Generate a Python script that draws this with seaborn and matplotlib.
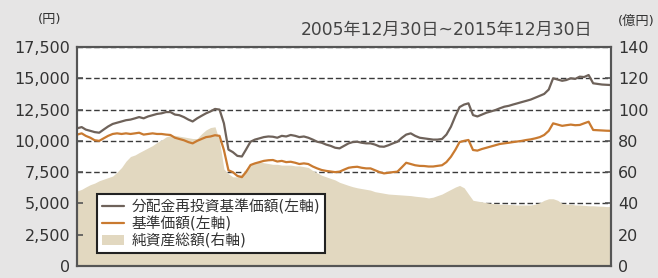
import numpy as np
import pandas as pd
import seaborn as sns
import matplotlib.pyplot as plt
from matplotlib.patches import Patch

# monthly readings, 2005-12 .. 2015-12
dates = pd.date_range('2005-12-01', '2015-12-01', freq='MS') + pd.offsets.MonthEnd(0)

# 分配金再投資基準価額 (円)
nav_reinv = [11000, 11100, 10900, 10800, 10700, 10650, 10900, 11150, 11350, 11450,
             11550, 11650, 11700, 11800, 11900, 11800, 11950, 12050, 12150, 12200,
             12300, 12300, 12100, 12050, 11900, 11700, 11550, 11800, 12000, 12200,
             12350, 12550, 12500, 11400, 9300, 9100, 8800, 8750, 9300, 9930,
             10100, 10200, 10300, 10350, 10330, 10250, 10400, 10350, 10470, 10400,
             10300, 10350, 10250, 10100, 9930, 9850, 9700, 9600, 9450, 9400,
             9600, 9800, 9900, 9930, 9850, 9800, 9800, 9700, 9550, 9530,
             9650, 9800, 9930, 10250, 10500, 10600, 10400, 10250, 10200, 10150,
             10100, 10100, 10150, 10500, 11130, 12000, 12700, 12900, 13000, 12060,
             11950, 12100, 12250, 12350, 12460, 12600, 12730, 12800, 12900, 13000,
             13100, 13200, 13300, 13450, 13600, 13750, 14100, 15000, 14900, 14800,
             14860, 15000, 14950, 15130, 15100, 15260, 14600, 14550, 14500, 14480,
             14460]

# 基準価額 (円)
nav = [10500, 10600, 10400, 10250, 10050, 10000, 10200, 10400, 10550, 10600,
       10550, 10600, 10550, 10600, 10650, 10500, 10550, 10600, 10550, 10550,
       10500, 10470, 10250, 10150, 10050, 9900, 9800, 10000, 10150, 10300,
       10350, 10450, 10400, 9270, 7650, 7500, 7200, 7100, 7500, 8070,
       8200, 8300, 8400, 8450, 8470, 8350, 8400, 8300, 8330, 8250,
       8150, 8200, 8150, 7950, 7800, 7670, 7600, 7550, 7500, 7540,
       7700, 7850, 7900, 7930, 7850, 7800, 7800, 7650, 7500, 7400,
       7450, 7500, 7540, 7900, 8250, 8150, 8050, 8000, 7990, 7950,
       7950, 8000, 8050, 8300, 8730, 9300, 9900, 10000, 10070, 9270,
       9220, 9350, 9450, 9550, 9650, 9750, 9800, 9850, 9900, 9950,
       10000, 10070, 10120, 10200, 10300, 10470, 10800, 11400, 11300, 11200,
       11250, 11300, 11250, 11270, 11400, 11530, 10870, 10850, 10830, 10810,
       10800]

# 純資産総額 (億円)
net_assets = [48, 49, 50.5, 52, 53, 54.5, 55.5, 56.5, 57.5, 60,
              63, 67, 70, 71, 72.5, 74, 75.5, 77, 79, 80.5,
              82.5, 83.5, 83.5, 83, 82.5, 82, 81.5, 81.5, 84.5, 87,
              88.5, 89, 80, 62, 59, 57, 57, 59, 62, 65,
              66, 66.5, 66, 65.5, 65, 65, 64.5, 64.5, 64.5, 64,
              64, 63.5, 63, 61, 59.5, 58, 57, 56, 55, 53.5,
              52.5, 51.5, 50.7, 50, 49.5, 49, 48.5, 47.5, 47, 46.5,
              46, 45.8, 45.6, 45.4, 45.2, 45, 44.6, 44.3, 44, 43.5,
              44, 45, 46, 47.5, 49, 50.5, 51.5, 50, 46, 42,
              41.5, 41, 40.5, 40, 39.8, 39.5, 39.5, 39.3, 39.2, 39,
              39, 39, 39, 39.5, 40.5, 42, 43, 43, 42, 40,
              39.5, 39.5, 39, 39, 38.8, 38.5, 38.5, 38.3, 38.2, 38,
              38]

labels = ['分配金再投資基準価額(左軸)', '基準価額(左軸)', '純資産総額(右軸)']
left_ticks = [0, 2500, 5000, 7500, 10000, 12500, 15000, 17500]
right_ticks = [0, 20, 40, 60, 80, 100, 120, 140]

df = pd.DataFrame({'date': dates, 'reinv': nav_reinv, 'nav': nav, 'assets': net_assets})

c_dark = '#6e625a'
c_orange = '#c97a30'
c_fill = '#e2d8c0'
c_grid = '#3a3a3a'

sns.set_style('white')
plt.rcParams['font.family'] = ['DejaVu Sans', 'Noto Sans CJK JP']

fig = plt.figure(figsize=(6.58, 2.78), dpi=100, facecolor='#e6e5e5')
ax2 = fig.add_axes([77/658, 12/278, 534/658, 219/278])
ax = ax2.twinx()

# back axes: net assets fill + dashed grid
ax2.fill_between(df['date'], 0, df['assets'], color=c_fill, lw=0, zorder=2)
ax2.set_ylim(0, 140)
ax2.set_yticks(right_ticks)
ax2.set_axisbelow(True)
ax2.grid(axis='y', color=c_grid, linestyle=(0, (4, 2)), linewidth=1.0, zorder=0)
ax2.set_facecolor('white')

# front axes: price lines
ax.set_zorder(ax2.get_zorder() + 1)
ax.patch.set_visible(False)
sns.lineplot(data=df, x='date', y='reinv', ax=ax, color=c_dark, lw=1.6)
sns.lineplot(data=df, x='date', y='nav', ax=ax, color=c_orange, lw=1.6)
ax.set_ylim(0, 17500)

# swap sides so yen is on the left
ax2.yaxis.tick_right()
ax.yaxis.tick_left()
ax.set_yticks(left_ticks)
ax.set_yticklabels([f'{v:,}' for v in left_ticks])
ax.set_xlabel('')
ax.set_ylabel('')
ax2.set_ylabel('')

ax.set_xlim(pd.Timestamp('2005-12-30'), pd.Timestamp('2015-12-31'))
xt = [pd.Timestamp(f'{y}-01-01') for y in (2008, 2010, 2012, 2014)]
ax2.set_xticks(xt)
ax2.set_xticklabels([])
ax.set_xticks(xt)
ax.set_xticklabels([])

for a in (ax, ax2):
    for s in a.spines.values():
        s.set_color('#555555')
        s.set_linewidth(1.5)
    a.tick_params(direction='in', length=4, width=1.2, color='#555555',
                  labelsize=11.5, labelcolor='#333333', pad=5)
ax.tick_params(axis='x', bottom=True, top=False)
ax2.tick_params(axis='x', bottom=True, top=False)
ax.tick_params(axis='y', left=True, right=False, labelleft=True, labelright=False)
ax2.tick_params(axis='y', left=False, right=True, labelleft=False, labelright=True)

handles = [plt.Line2D([], [], color=c_dark, lw=1.6),
           plt.Line2D([], [], color=c_orange, lw=1.6),
           Patch(facecolor=c_fill, edgecolor='none')]
leg = ax.legend(handles, labels, loc='lower left', bbox_to_anchor=(0.037, 0.058),
                borderaxespad=0, fontsize=10.6, frameon=True, fancybox=False,
                handlelength=1.5, handletextpad=0.5, borderpad=0.35, labelspacing=0.12)
leg.get_frame().set_edgecolor('#222222')
leg.get_frame().set_linewidth(1.5)
leg.get_frame().set_facecolor('white')
leg.get_frame().set_alpha(1)
for t in leg.get_texts():
    t.set_color('#333333')

fig.text(50/658, 1 - 20/278, '(円)', ha='center', va='center', fontsize=9.5, color='#333333')
fig.text(636/658, 1 - 21/278, '(億円)', ha='center', va='center', fontsize=9.5, color='#333333')
fig.text(592/658, 1 - 30/278, '2005年12月30日~2015年12月30日', ha='right', va='center',
         fontsize=12.3, color='#444444')

fig.savefig('out.png', dpi=100, facecolor=fig.get_facecolor())
